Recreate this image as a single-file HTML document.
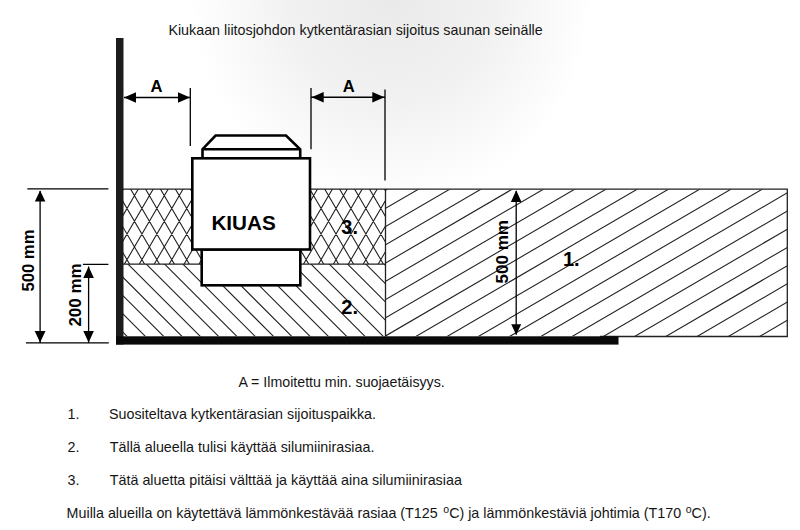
<!DOCTYPE html><html><head><meta charset="utf-8"><style>html,body{margin:0;padding:0;background:#fff}svg{display:block}text{font-family:"Liberation Sans",sans-serif}</style></head><body>
<svg width="800" height="530" viewBox="0 0 800 530">
<defs>
<radialGradient id="bg" cx="392" cy="0" r="200" gradientUnits="userSpaceOnUse" gradientTransform="translate(392 0) scale(1 1) translate(-392 0)"><stop offset="0" stop-color="#eaeaea"/><stop offset="0.5" stop-color="#f1f1f1"/><stop offset="1" stop-color="#fff"/></radialGradient>
<clipPath id="c3"><rect x="123" y="189" width="262.5" height="75"/></clipPath>
<clipPath id="c2"><rect x="123" y="264" width="262.5" height="72.3"/></clipPath>
<clipPath id="c1"><rect x="385.5" y="189.5" width="401.8" height="146.8"/></clipPath>
</defs>
<rect width="800" height="530" fill="#fff"/>
<rect width="800" height="260" fill="url(#bg)"/>
<path clip-path="url(#c3)" d="M-322.58 180L-270.10 270M-304.32 180L-356.80 270M-307.65 180L-255.17 270M-289.39 180L-341.87 270M-292.72 180L-240.24 270M-274.46 180L-326.94 270M-277.79 180L-225.31 270M-259.53 180L-312.01 270M-262.86 180L-210.38 270M-244.60 180L-297.08 270M-247.93 180L-195.45 270M-229.67 180L-282.15 270M-233.00 180L-180.52 270M-214.74 180L-267.22 270M-218.07 180L-165.59 270M-199.81 180L-252.29 270M-203.14 180L-150.66 270M-184.88 180L-237.36 270M-188.21 180L-135.73 270M-169.95 180L-222.43 270M-173.28 180L-120.80 270M-155.02 180L-207.50 270M-158.35 180L-105.87 270M-140.09 180L-192.57 270M-143.42 180L-90.94 270M-125.16 180L-177.64 270M-128.49 180L-76.01 270M-110.23 180L-162.71 270M-113.56 180L-61.08 270M-95.30 180L-147.78 270M-98.63 180L-46.15 270M-80.37 180L-132.85 270M-83.70 180L-31.22 270M-65.44 180L-117.92 270M-68.77 180L-16.29 270M-50.51 180L-102.99 270M-53.84 180L-1.36 270M-35.58 180L-88.06 270M-38.91 180L13.57 270M-20.65 180L-73.13 270M-23.98 180L28.50 270M-5.72 180L-58.20 270M-9.05 180L43.43 270M9.21 180L-43.27 270M5.88 180L58.36 270M24.14 180L-28.34 270M20.81 180L73.29 270M39.07 180L-13.41 270M35.74 180L88.22 270M54.00 180L1.52 270M50.67 180L103.15 270M68.93 180L16.45 270M65.60 180L118.08 270M83.86 180L31.38 270M80.53 180L133.01 270M98.79 180L46.31 270M95.46 180L147.94 270M113.72 180L61.24 270M110.39 180L162.87 270M128.65 180L76.17 270M125.32 180L177.80 270M143.58 180L91.10 270M140.25 180L192.73 270M158.51 180L106.03 270M155.18 180L207.66 270M173.44 180L120.96 270M170.11 180L222.59 270M188.37 180L135.89 270M185.04 180L237.52 270M203.30 180L150.82 270M199.97 180L252.45 270M218.23 180L165.75 270M214.90 180L267.38 270M233.16 180L180.68 270M229.83 180L282.31 270M248.09 180L195.61 270M244.76 180L297.24 270M263.02 180L210.54 270M259.69 180L312.17 270M277.95 180L225.47 270M274.62 180L327.10 270M292.88 180L240.40 270M289.55 180L342.03 270M307.81 180L255.33 270M304.48 180L356.96 270M322.74 180L270.26 270M319.41 180L371.89 270M337.67 180L285.19 270M334.34 180L386.82 270M352.60 180L300.12 270M349.27 180L401.75 270M367.53 180L315.05 270M364.20 180L416.68 270M382.46 180L329.98 270M379.13 180L431.61 270M397.39 180L344.91 270M394.06 180L446.54 270M412.32 180L359.84 270M408.99 180L461.47 270M427.25 180L374.77 270M423.92 180L476.40 270M442.18 180L389.70 270M438.85 180L491.33 270M457.11 180L404.63 270M453.78 180L506.26 270M472.04 180L419.56 270M468.71 180L521.19 270M486.97 180L434.49 270M483.64 180L536.12 270M501.90 180L449.42 270M498.57 180L551.05 270M516.83 180L464.35 270M513.50 180L565.98 270M531.76 180L479.28 270M528.43 180L580.91 270M546.69 180L494.21 270M543.36 180L595.84 270M561.62 180L509.14 270M558.29 180L610.77 270M576.55 180L524.07 270" stroke="#222" stroke-width="1.1" fill="none"/>
<path clip-path="url(#c2)" d="M-228.80 255L-138.80 345M-210.50 255L-120.50 345M-192.20 255L-102.20 345M-173.90 255L-83.90 345M-155.60 255L-65.60 345M-137.30 255L-47.30 345M-119.00 255L-29.00 345M-100.70 255L-10.70 345M-82.40 255L7.60 345M-64.10 255L25.90 345M-45.80 255L44.20 345M-27.50 255L62.50 345M-9.20 255L80.80 345M9.10 255L99.10 345M27.40 255L117.40 345M45.70 255L135.70 345M64.00 255L154.00 345M82.30 255L172.30 345M100.60 255L190.60 345M118.90 255L208.90 345M137.20 255L227.20 345M155.50 255L245.50 345M173.80 255L263.80 345M192.10 255L282.10 345M210.40 255L300.40 345M228.70 255L318.70 345M247.00 255L337.00 345M265.30 255L355.30 345M283.60 255L373.60 345M301.90 255L391.90 345M320.20 255L410.20 345M338.50 255L428.50 345M356.80 255L446.80 345M375.10 255L465.10 345M393.40 255L483.40 345M411.70 255L501.70 345M430.00 255L520.00 345M448.30 255L538.30 345M466.60 255L556.60 345M484.90 255L574.90 345" stroke="#222" stroke-width="1.1" fill="none"/>
<path clip-path="url(#c1)" d="M380 -25.21L800 -270.07M380 -6.99L800 -251.85M380 11.23L800 -233.63M380 29.45L800 -215.41M380 47.67L800 -197.19M380 65.88L800 -178.98M380 84.10L800 -160.76M380 102.32L800 -142.54M380 120.54L800 -124.32M380 138.76L800 -106.10M380 156.98L800 -87.88M380 175.20L800 -69.66M380 193.42L800 -51.44M380 211.63L800 -33.23M380 229.85L800 -15.01M380 248.07L800 3.21M380 266.29L800 21.43M380 284.51L800 39.65M380 302.73L800 57.87M380 320.95L800 76.09M380 339.17L800 94.31M380 357.38L800 112.52M380 375.60L800 130.74M380 393.82L800 148.96M380 412.04L800 167.18M380 430.26L800 185.40M380 448.48L800 203.62M380 466.70L800 221.84M380 484.91L800 240.06M380 503.13L800 258.27M380 521.35L800 276.49M380 539.57L800 294.71M380 557.79L800 312.93M380 576.01L800 331.15M380 594.23L800 349.37M380 612.45L800 367.59M380 630.66L800 385.81M380 648.88L800 404.02M380 667.10L800 422.24M380 685.32L800 440.46" stroke="#222" stroke-width="1.1" fill="none"/>
<path d="M123 189.2H787.3V336.5H600M123 264.2H385.5M385.5 189V336.5" stroke="#222" stroke-width="1.3" fill="none"/>
<g stroke="#000" stroke-width="2.6" fill="#fff" stroke-linejoin="miter">
<rect x="201.7" y="249.5" width="98.6" height="35.8"/>
<path d="M202.5 158.3V149.2L215.6 135.5H286L300.2 149.2V158.3Z"/>
<path d="M202.5 149.2H300.2" fill="none"/>
<rect x="192.3" y="158.3" width="117.7" height="91.2"/>
</g>
<rect x="116" y="38" width="7.5" height="306.5" fill="#1c1c1c"/>
<rect x="116" y="336.3" width="502.5" height="8.3" fill="#0a0a0a"/>
<path d="M124 97.5H190M190.3 88V146M311 97.25H385M311 88V149.3M385 89.4V180.5M27.3 188.9H108.4M82.9 264.3H108.4M25.9 342.8H108.8M40.1 191V342.5M88.6 266.6V342.5M516.2 191V334.7" stroke="#000" stroke-width="1.3" fill="none"/>
<path d="M124 97.5L136 92.35V102.65ZM190 97.5L178 92.35V102.65ZM311.5 97.25L323.7 92.1V102.4ZM384.5 97.25L372.3 92.1V102.4ZM40.1 190.6L34.85 201.6H45.35ZM40.1 342.5L34.7 331.1H45.5ZM88.6 266.6L83.3 277.90000000000003H93.89999999999999ZM88.6 342.5L83.3 331.1H93.89999999999999ZM516.2 190.3L510.90000000000003 201.9H521.5ZM516.2 334.7L511.20000000000005 324.2H521.2Z" fill="#000"/>
<g font-weight="bold" fill="#000">
<text x="150.5" y="91.9" font-size="16.6">A</text>
<text x="342.7" y="91.6" font-size="16.6">A</text>
<text x="211.4" y="229.8" font-size="20.7">KIUAS</text>
<text x="341.3" y="234" font-size="20">3.</text>
<text x="341.3" y="314.4" font-size="20">2.</text>
<text x="563" y="266.2" font-size="20">1.</text>
<text transform="translate(33.9 291.6) rotate(-90) scale(1.03 1)" font-size="16.2">500 mm</text>
<text transform="translate(81.4 326.6) rotate(-90) scale(1.05 1)" font-size="16.2">200 mm</text>
<text transform="translate(508 283.6) rotate(-90) scale(1.055 1)" font-size="16.2">500 mm</text>
</g>
<g fill="#151515" font-size="14.3">
<text x="168.4" y="35">Kiukaan liitosjohdon kytkentärasian sijoitus saunan seinälle</text>
<text x="238.5" y="387" font-size="14.2">A = Ilmoitettu min. suojaetäisyys.</text>
<text x="67.5" y="418.75">1.</text><text x="109" y="418.75">Suositeltava kytkentärasian sijoituspaikka.</text>
<text x="67.5" y="451.9">2.</text><text x="109.8" y="451.9">Tällä alueella tulisi käyttää silumiinirasiaa.</text>
<text x="67.5" y="485">3.</text><text x="109.8" y="485">Tätä aluetta pitäisi välttää ja käyttää aina silumiinirasiaa</text>
<text x="66.6" y="517.5">Muilla alueilla on käytettävä lämmönkestävää rasiaa (T125 <tspan font-size="10.5" dx="1.6" dy="-4.6">o</tspan><tspan dy="4.6">C) ja lämmönkestäviä johtimia (T170 </tspan><tspan font-size="10.5" dx="0.6" dy="-4.6">o</tspan><tspan dy="4.6">C).</tspan></text>
</g>
</svg></body></html>
